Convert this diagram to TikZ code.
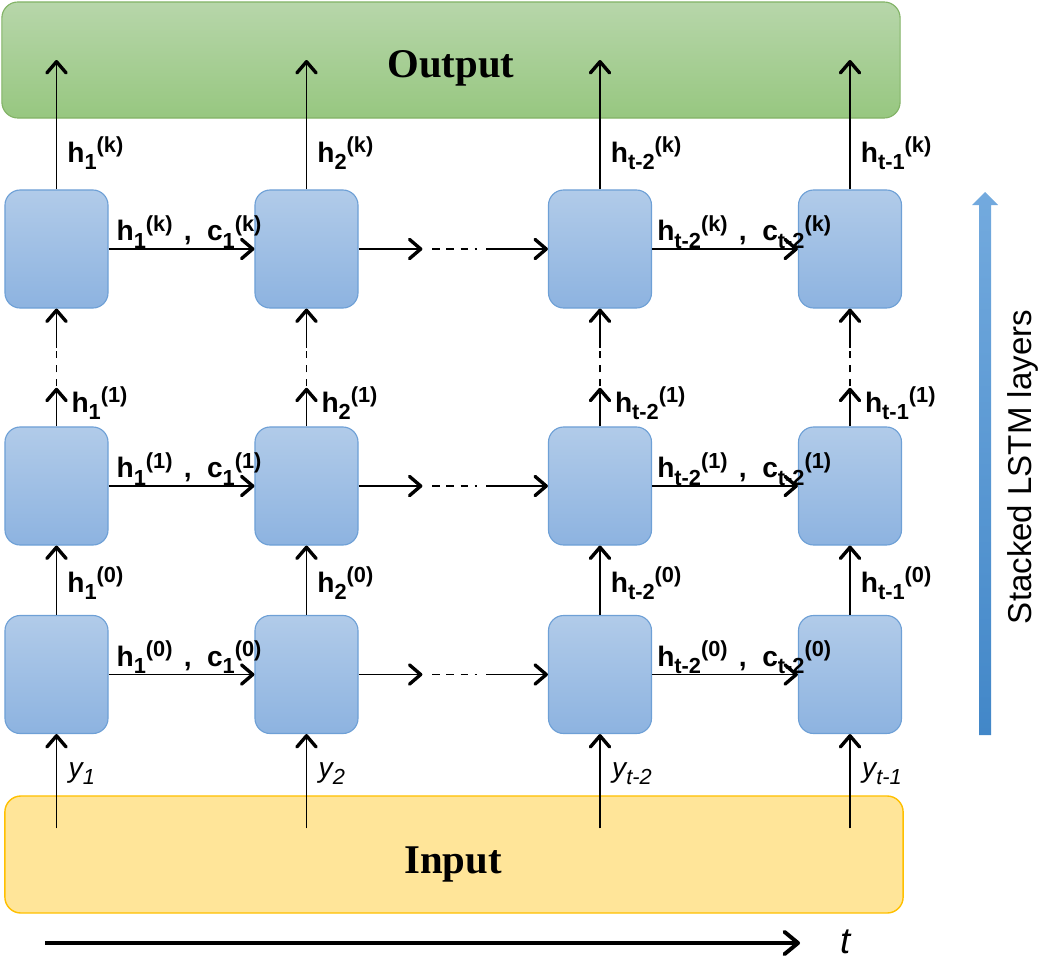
\documentclass[tikz,border=0pt]{standalone}
\usepackage{fontspec}
\setmainfont{Liberation Sans}
\newfontfamily\titlefont{Liberation Serif}
\usetikzlibrary{positioning,arrows.meta,calc}

\definecolor{celltop}{RGB}{177,203,233}
\definecolor{cellbot}{RGB}{141,179,224}
\definecolor{cellline}{RGB}{110,160,214}
\definecolor{outtop}{RGB}{183,214,170}
\definecolor{outbot}{RGB}{151,199,128}
\definecolor{outline}{RGB}{130,179,102}
\definecolor{infill}{RGB}{255,229,153}
\definecolor{inline}{RGB}{255,192,0}
\definecolor{lstmtop}{RGB}{115,170,222}
\definecolor{lstmbot}{RGB}{66,135,200}

% state label: letter, subscript, superscript
\newcommand{\hs}[3]{#1\raisebox{-5pt}{\fontsize{15.5}{16}\selectfont #2}\raisebox{7pt}{\fontsize{15.5}{16}\selectfont (#3)}}
\newcommand{\yin}[1]{{\itshape y\raisebox{-5pt}{\fontsize{15.5}{16}\selectfont #1}}}

\begin{document}
\begin{tikzpicture}[
    x=0.025cm, y=-0.025cm,
    font=\fontsize{20}{22}\selectfont,
    >={Straight Barb[length=2.8mm,width=4.8mm,line width=2.4pt,round]},
    cell/.style  ={draw=cellline, line width=0.8pt, rounded corners=0.38cm, minimum width=2.575cm, minimum height=2.95cm, top color=celltop, bottom color=cellbot, inner sep=0pt},
    outbox/.style={draw=outline, line width=0.8pt, rounded corners=0.4cm, minimum width=22.45cm, minimum height=2.9cm, top color=outtop, bottom color=outbot, inner sep=0pt},
    inbox/.style ={draw=inline, line width=1pt, rounded corners=0.4cm, minimum width=22.45cm, minimum height=2.925cm, fill=infill, inner sep=0pt},
    flow/.style  ={->, line width=1.4pt},
    gap/.style   ={line width=1.4pt, dash pattern=on 5.5pt off 4.5pt on 5.5pt off 4.5pt on 5.5pt off 4.5pt on 1.5pt off 20pt},
    lbl/.style   ={anchor=base west, inner sep=0pt, font=\fontsize{20}{22}\selectfont\bfseries},
    ylbl/.style  ={anchor=base west, inner sep=0pt, font=\fontsize{20}{22}\selectfont},
    big/.style   ={anchor=base, inner sep=0pt, font=\titlefont\bfseries\fontsize{29}{32}\selectfont}
]
\useasboundingbox (0,0) rectangle (1052,968);

% --- Output / Input ---
\node[outbox] (out) at (451,60) {};
\node[big] (outtxt) at (451,77) {Output};
\node[inbox] (inp) at (454,854.5) {};
\node[big] (intxt) at (453,873) {Input};

% --- LSTM cells ---
\foreach \c/\x in {1/56.5,2/306.5,3/600,4/850}
  \foreach \r/\y in {0/674.5,1/486,k/249}
    \node[cell] (c\c-\r) at (\x,\y) {};

% --- vertical flow ---
\foreach \c/\s in {1/1,2/2,3/t-2,4/t-1}{
  \coordinate (y\c) at ($(c\c-0.south |- inp.north)+(0,33)$);
  \draw[flow] (y\c) -- node[ylbl, pos=0.54, xshift=8pt] (yl\c) {\yin{\s}} (c\c-0.south);
  \draw[flow] (c\c-0.north) -- node[lbl, pos=0.32, xshift=7pt] (hz\c) {\hs{h}{\s}{0}} (c\c-1.south);
  \path (c\c-1.north) -- (c\c-k.south) coordinate[pos=0.328] (va\c) coordinate[pos=0.34] (vb\c) coordinate[pos=0.664] (vc\c);
  \draw[flow] (c\c-1.north) -- node[lbl, pos=0.36, xshift=10pt] (ho\c) {\hs{h}{\s}{1}} (va\c);
  \draw[gap] (vb\c) -- (vc\c);
  \draw[flow] (vc\c) -- (c\c-k.south);
  \draw[flow] (c\c-k.north) -- node[lbl, pos=0.21, xshift=7pt] (hk\c) {\hs{h}{\s}{k}} (c\c-k.north |- out.center);
}

% --- horizontal flow ---
\foreach \r in {0,1,k}{
  \draw[flow] (c1-\r.east) -- node[lbl, pos=0, xshift=5pt, yshift=5.7pt] (la\r) {\hs{h}{1}{\r}\hspace{0.4em},\hspace{0.55em}\hs{c}{1}{\r}} (c2-\r.west);
  \path (c2-\r.east) -- (c3-\r.west) coordinate[pos=0.337] (ha\r) coordinate[pos=0.39] (hb\r) coordinate[pos=0.674] (hc\r);
  \draw[flow] (c2-\r.east) -- (ha\r);
  \draw[gap] (hb\r) -- (hc\r);
  \draw[flow] (hc\r) -- (c3-\r.west);
  \draw[flow] (c3-\r.east) -- node[lbl, pos=0, xshift=3pt, yshift=5.7pt] (lb\r) {\hs{h}{t-2}{\r}\hspace{0.4em},\hspace{0.55em}\hs{c}{t-2}{\r}} (c4-\r.west);
}

% --- time axis ---
\coordinate (t0) at (45,943);
\coordinate (t1) at (800,943);
\draw[line width=2.8pt, -{Straight Barb[length=3.4mm,width=5.6mm,line width=2.8pt,round]}] (t0) -- (t1);
\node[ylbl, font=\itshape\fontsize{26}{28}\selectfont] (tl) at (840,953) {t};

% --- stacked layers arrow ---
\shade[top color=lstmtop, bottom color=lstmbot] (979,735) -- (979,205) -- (972,205) -- (985,192) -- (998,205) -- (991,205) -- (991,735) -- cycle;
\node[rotate=90, inner sep=0pt, font=\fontsize{23.5}{26}\selectfont] (stack) at (1023,467) {Stacked LSTM layers};

\end{tikzpicture}
\end{document}
